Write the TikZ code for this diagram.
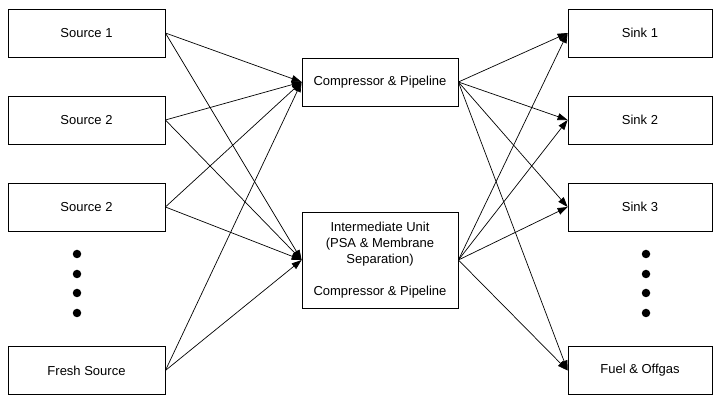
\documentclass[tikz,border=0pt]{standalone}
\usepackage{fontspec}
\setmainfont{Liberation Sans}
\usetikzlibrary{arrows.meta}

\begin{document}
\begin{tikzpicture}[
  x=1pt,y=1pt,
  font=\fontsize{13}{16}\selectfont,
  sourceBox/.style={draw,line width=0.8pt,rectangle,minimum width=157pt,minimum height=48pt,inner sep=0pt},
  unitBox/.style={draw,line width=0.8pt,rectangle,minimum width=156pt,minimum height=48pt,inner sep=0pt},
  sinkBox/.style={draw,line width=0.8pt,rectangle,minimum width=144pt,minimum height=48pt,inner sep=0pt},
  dotMark/.style={circle,fill=black,minimum size=8.5pt,inner sep=0pt},
  sourceToUnit/.style={-{Triangle[length=10pt,width=7pt]},line width=0.7pt,black},
  unitToSink/.style={-{Triangle[length=10pt,width=7pt]},line width=0.7pt,black},
  every node/.style={align=center}]

  \useasboundingbox (0,0) rectangle (713,395);

  % sources
  \node[sourceBox] (src1) at (86.5,362) {Source 1};
  \node[sourceBox] (src2) at (86.5,275) {Source 2};
  \node[sourceBox] (src3) at (86.5,188) {Source 2};
  \node[sourceBox] (fresh) at (86.5,24.5) {Fresh Source};
  \node[dotMark] (ld1) at (77,141) {};
  \node[dotMark] (ld2) at (77,121) {};
  \node[dotMark] (ld3) at (77,102) {};
  \node[dotMark] (ld4) at (77,82) {};

  % units
  \node[unitBox] (comp) at (380,313) {Compressor \& Pipeline};
  \node[unitBox,minimum height=96pt] (inter) at (380,135)
    {Intermediate Unit\\(PSA \& Membrane\\Separation)\\[16pt]Compressor \& Pipeline};

  % sinks
  \node[sinkBox] (sink1) at (640,362) {Sink 1};
  \node[sinkBox] (sink2) at (640,275) {Sink 2};
  \node[sinkBox] (sink3) at (640,188) {Sink 3};
  \node[sinkBox] (fuel) at (640,24.5) {Fuel \& Offgas};
  \node[dotMark] (rd1) at (646,141) {};
  \node[dotMark] (rd2) at (646,121) {};
  \node[dotMark] (rd3) at (646,102) {};
  \node[dotMark] (rd4) at (646,82) {};

  % sources to compressor
  \draw [sourceToUnit] (src1.east) -- (comp.west);
  \draw [sourceToUnit] (src2.east) -- (comp.west);
  \draw [sourceToUnit] (src3.east) -- (comp.west);
  \draw [sourceToUnit] (fresh.east) -- (comp.west);
  % sources to intermediate unit
  \draw [sourceToUnit] (src1.east) -- (inter.west);
  \draw [sourceToUnit] (src2.east) -- (inter.west);
  \draw [sourceToUnit] (src3.east) -- (inter.west);
  \draw [sourceToUnit] (fresh.east) -- (inter.west);

  % compressor to sinks
  \draw [unitToSink] (comp.east) -- (sink1.west);
  \draw [unitToSink] (comp.east) -- (sink2.west);
  \draw [unitToSink] (comp.east) -- (sink3.west);
  \draw [unitToSink] (comp.east) -- (fuel.west);
  % intermediate unit to sinks
  \draw [unitToSink] (inter.east) -- (sink1.west);
  \draw [unitToSink] (inter.east) -- (sink2.west);
  \draw [unitToSink] (inter.east) -- (sink3.west);
  \draw [unitToSink] (inter.east) -- (fuel.west);

\end{tikzpicture}
\end{document}
